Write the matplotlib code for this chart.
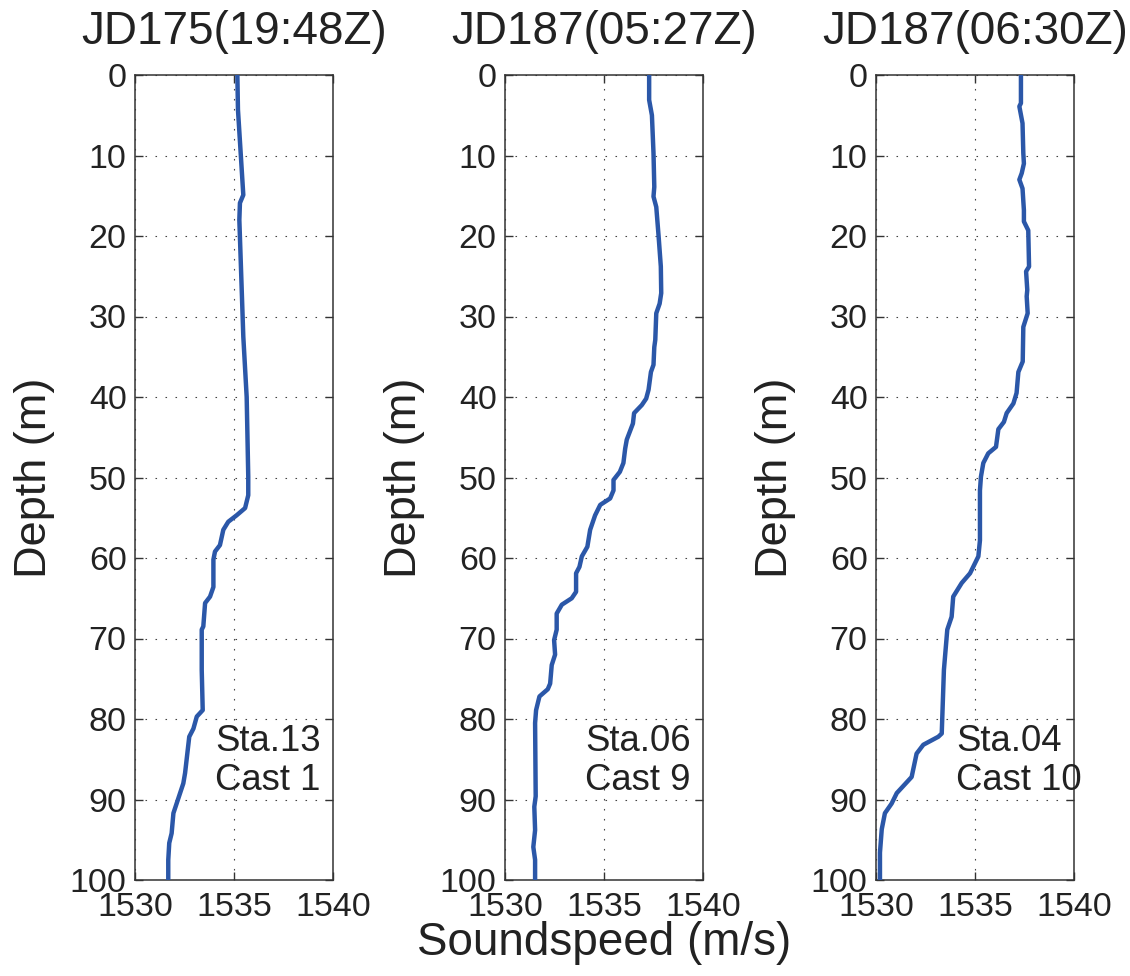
import matplotlib
matplotlib.use("Agg")
import matplotlib.pyplot as plt

plt.rcParams['font.family'] = ['Liberation Sans', 'DejaVu Sans']

titles = ["JD175(19:48Z)", "JD187(05:27Z)", "JD187(06:30Z)"]
labels = ["Sta.13\nCast 1", "Sta.06\nCast 9", "Sta.04\nCast 10"]

# Station 13, cast 1
depth1 = [0, 4.3, 14.9, 15.9, 18, 32.5, 40, 49.9, 52.2, 53.8, 54.7, 55.5, 56.5, 58.4,
          59.2, 60.2, 63.6, 64.8, 65.6, 68.5, 68.9, 73.9, 78.9, 79.7, 81.2, 82.2,
          86.7, 88, 91.7, 94.2, 95.4, 97.5, 100]
speed1 = [1535.17, 1535.2, 1535.47, 1535.3, 1535.27, 1535.47, 1535.64, 1535.72, 1535.72,
          1535.56, 1535.13, 1534.71, 1534.46, 1534.29, 1534.04, 1533.96, 1533.96,
          1533.79, 1533.54, 1533.45, 1533.37, 1533.37, 1533.42, 1533.12, 1532.95,
          1532.74, 1532.53, 1532.44, 1531.94, 1531.85, 1531.73, 1531.68, 1531.68]

# Station 06, cast 9
depth2 = [0, 3.1, 5.0, 9.7, 13.9, 15.1, 16.4, 20.1, 23.8, 27.1, 28.4, 29.6, 32.9, 33.8,
          36, 36.9, 39.1, 40.2, 41, 42, 43.3, 45.3, 46.4, 48.2, 49.3, 50.3, 51.6, 52.6,
          53.4, 54.7, 56.5, 58.6, 59.8, 61.1, 61.9, 64.2, 65, 65.8, 66.9, 68.9, 70.2,
          72, 73.3, 75.6, 76.3, 77.2, 78.9, 80.5, 89.6, 90.9, 93.8, 95.9, 97.5, 100]
speed2 = [1537.28, 1537.28, 1537.42, 1537.5, 1537.54, 1537.5, 1537.64, 1537.76, 1537.87,
          1537.89, 1537.81, 1537.64, 1537.59, 1537.54, 1537.5, 1537.37, 1537.25,
          1537.13, 1536.91, 1536.52, 1536.46, 1536.15, 1536.07, 1535.98, 1535.8,
          1535.48, 1535.48, 1535.31, 1534.81, 1534.55, 1534.3, 1534.16, 1533.88,
          1533.76, 1533.59, 1533.59, 1533.37, 1532.87, 1532.61, 1532.61, 1532.48,
          1532.53, 1532.36, 1532.28, 1532.16, 1531.74, 1531.57, 1531.52, 1531.55,
          1531.48, 1531.52, 1531.43, 1531.52, 1531.52]

# Station 04, cast 10
depth3 = [0, 3.5, 3.9, 6, 9.7, 11, 12.2, 13, 14.1, 16.8, 18.2, 19.3, 23.8, 24.4, 26.7,
          27.5, 29.6, 31.3, 35.6, 36.9, 39.5, 40.8, 42, 43.1, 44, 46.2, 47, 48.2, 49.9,
          51.6, 57.8, 59.8, 61.9, 63.1, 64.8, 67.3, 68.9, 73.9, 81.8, 82.2, 83.2, 84.3,
          87.2, 89.2, 90.5, 91.7, 93.7, 96.6, 100]
speed3 = [1537.32, 1537.32, 1537.24, 1537.4, 1537.44, 1537.47, 1537.36, 1537.24, 1537.4,
          1537.47, 1537.47, 1537.69, 1537.73, 1537.58, 1537.64, 1537.61, 1537.66,
          1537.44, 1537.41, 1537.19, 1537.1, 1536.94, 1536.6, 1536.46, 1536.18,
          1536.06, 1535.67, 1535.42, 1535.3, 1535.25, 1535.25, 1535.17, 1534.75,
          1534.33, 1533.9, 1533.82, 1533.6, 1533.43, 1533.32, 1533.15, 1532.39,
          1532.05, 1531.8, 1531.05, 1530.79, 1530.45, 1530.29, 1530.2, 1530.2]

depths = [depth1, depth2, depth3]
speeds = [speed1, speed2, speed3]

xticks = [1530, 1535, 1540]
yticks = list(range(0, 101, 10))

fig = plt.figure(figsize=(11.3, 9.76), dpi=100)
lefts = [135 / 1130, 505 / 1130, 876 / 1130]
W = 198 / 1130
B = 1 - 880 / 976
H = (880 - 75) / 976
txt = '#222222'
line_color = '#2b57a8'

for i in range(3):
    ax = fig.add_axes([lefts[i], B, W, H])
    ax.plot(speeds[i], depths[i], color=line_color, lw=3.2, solid_joinstyle='round', zorder=3)
    ax.set_xlim(1530, 1540)
    ax.set_ylim(100, 0)
    ax.set_xticks(xticks)
    ax.set_yticks(yticks)
    ax.tick_params(direction='in', length=5.8, width=1, top=True, right=True,
                   labelsize=24.5, colors='#333333', labelcolor=txt)
    ax.tick_params(axis='x', pad=9)
    ax.tick_params(axis='y', pad=6)
    for s in ax.spines.values():
        s.set_linewidth(1.1)
        s.set_color('#333333')
    ax.grid(True, color='#444444', lw=0.8, linestyle=(0, (1.4, 7.6)))
    ax.set_axisbelow(True)
    ax.set_title(titles[i], fontsize=33, color=txt, pad=22)
    ax.set_ylabel("Depth (m)", fontsize=32.5, color=txt)
    ax.yaxis.set_label_coords(-0.405, 0.5)
    ax.text(1534.05, 85.2, labels[i], fontsize=26.3, color=txt, ha='left', va='center',
            linespacing=1.17)

fig.text(604 / 1130, 1 - 955 / 976, "Soundspeed (m/s)", fontsize=33, color=txt,
         ha='center', va='baseline')

fig.savefig("out.png", dpi=100, facecolor='white')
